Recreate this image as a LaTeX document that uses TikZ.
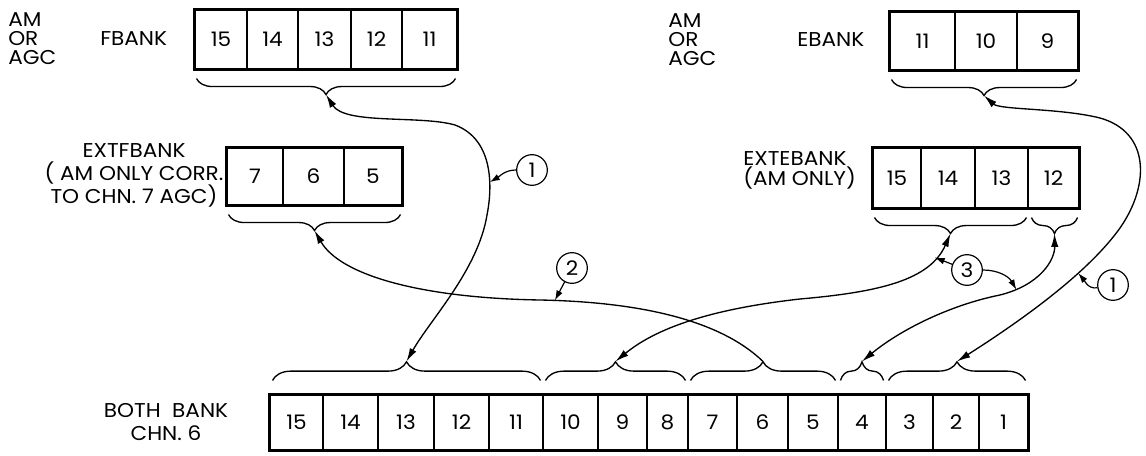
\documentclass[tikz,border=0pt]{standalone}
\usepackage{fontspec}
\setmainfont{Poppins}[FakeStretch=1.08]
\usetikzlibrary{arrows.meta, calc, decorations.pathreplacing}

\begin{document}
\begin{tikzpicture}[x=0.75pt, y=-0.75pt,
    every node/.style={font=\fontsize{15}{14.25}\selectfont, inner sep=0pt},
    cell/.style={draw, line width=0.8pt},
    frame/.style={line width=1.6pt},
    brace/.style={decorate, decoration={brace, amplitude=#1}, line width=1pt},
    link/.style={line width=1pt},
    tag/.style={draw, circle, line width=0.9pt, minimum size=23pt},
    callout/.style={line width=0.9pt, -{Latex[length=7.5pt, width=5pt]}},
    >={Latex[length=10pt, width=5.5pt]}]
  \path[use as bounding box, fill=white] (0,0) rectangle (1146,456);
  % top registers
  \foreach \l/\r/\n in {195/247/15, 247/298/14, 298/351/13, 351/402/12, 402/457/11}
    \node[cell, minimum width={(\r-\l)*0.75pt}, minimum height=44.25pt]
      (f\n) at ({(\l+\r)/2}, 39.5) {\n};
  \draw[frame] (f15.north west) rectangle (f11.south east);
  \foreach \l/\r/\n in {890/955/11, 955/1017/10, 1017/1078/9}
    \node[cell, minimum width={(\r-\l)*0.75pt}, minimum height=43.5pt]
      (e\n) at ({(\l+\r)/2}, 41) {\n};
  \draw[frame] (e11.north west) rectangle (e9.south east);
  \foreach \l/\r/\n in {227/283/7, 283/344/6, 344/402/5}
    \node[cell, minimum width={(\r-\l)*0.75pt}, minimum height=42.75pt]
      (xf\n) at ({(\l+\r)/2}, 176.5) {\n};
  \draw[frame] (xf7.north west) rectangle (xf5.south east);
  \foreach \l/\r/\n in {873/921/15, 921/975/14, 975/1028/13, 1028/1079/12}
    \node[cell, minimum width={(\r-\l)*0.75pt}, minimum height=45pt]
      (xe\n) at ({(\l+\r)/2}, 178) {\n};
  \draw[frame] (xe15.north west) rectangle (xe12.south east);
  % bottom register
  \foreach \l/\r/\n in {270/323/15, 323/378/14, 378/434/13, 434/489/12, 489/543/11,
      543/598/10, 598/647/9, 647/688/8, 688/737/7, 737/788/6, 788/838/5,
      838/886/4, 886/933/3, 933/979/2, 979/1028/1}
    \node[cell, minimum width={(\r-\l)*0.75pt}, minimum height=41.25pt]
      (b\n) at ({(\l+\r)/2}, 422.5) {\n};
  \draw[frame] (b15.north west) rectangle (b1.south east);
  % labels
  \node[anchor=west, align=left] (amf) at (8,39) {AM\\OR\\AGC};
  \node[anchor=west] (fbank) at (100,39) {FBANK};
  \node[anchor=west, align=left] (ame) at (668,40) {AM\\OR\\AGC};
  \node[anchor=west] (ebank) at (797,40) {EBANK};
  \node[align=center, font=\fontsize{15}{17.25}\selectfont] (extf) at (134,175)
    {EXTFBANK\\( AM ONLY CORR.\\TO CHN. 7 AGC)};
  \node[anchor=west, align=left, font=\fontsize{15}{15}\selectfont] (exte) at (743,170)
    {EXTEBANK\\(AM ONLY)};
  \node[align=center, font=\fontsize{15}{17.25}\selectfont] (both) at (166,422)
    {BOTH\ \ BANK\\CHN. 6};
  % braces
  \draw[brace=12pt] ($(f11.south east)+(-2,9)$) -- ($(f15.south west)+(2,9)$);
  \coordinate (tF) at ($(f15.south west)!0.5!(f11.south east)+(0,25)$);
  \draw[brace=12pt] ($(e9.south east)+(-2,9)$) -- ($(e11.south west)+(2,9)$);
  \coordinate (tE) at ($(e11.south west)!0.5!(e9.south east)+(0,25)$);
  \draw[brace=12pt] ($(xf5.south east)+(-2,9)$) -- ($(xf7.south west)+(2,9)$);
  \coordinate (tXF) at ($(xf7.south west)!0.5!(xf5.south east)+(0,25)$);
  \draw[brace=12pt] ($(xe13.south east)+(-2,9)$) -- ($(xe15.south west)+(2,9)$);
  \coordinate (tXE) at ($(xe15.south west)!0.5!(xe13.south east)+(0,25)$);
  \draw[brace=12pt] ($(xe12.south east)+(-2,9)$) -- ($(xe12.south west)+(4,9)$);
  \coordinate (tXE2) at ($(xe12.south west)!0.5!(xe12.south east)+(1,25)$);
  \foreach \a/\b/\t in {15/11/1, 10/8/2, 7/5/3, 4/4/4, 3/1/5} {
    \draw[brace=14pt] ($(b\a.north west)+(3,-14)$) -- ($(b\b.north east)+(-3,-14)$);
    \coordinate (tB\t) at ($(b\a.north west)!0.5!(b\b.north east)+(0,-33)$);
  }
  % connectors
  \draw[link, <->] (tF) .. controls (345,125) and (420,115) .. (455,125)
    .. controls (495,140) and (492,190) .. (487,215) coordinate[pos=0.65] (p1a)
    .. controls (478,270) and (430,320) .. (tB1);
  \draw[link, <-] (tXF) .. controls (340,275) and (420,298) .. (540,300)
    .. controls (640,302) and (720,320) .. (tB3) coordinate[pos=0.05] (p2);
  \draw[link, <->] (tB2) .. controls (660,325) and (720,308) .. (800,299)
    .. controls (880,292) and (930,280) .. (tXE) coordinate[pos=0.8] (p3a);
  \draw[link, <->] (tB4) .. controls (900,330) and (950,305) .. (1000,295)
    .. controls (1040,285) and (1055,260) .. (tXE2) coordinate[pos=0.15] (p3b);
  \draw[link, <->] (tE) .. controls (1000,110) and (1060,108) .. (1100,118)
    .. controls (1150,132) and (1150,185) .. (1120,228)
    .. controls (1090,270) and (1030,315) .. (tB5) coordinate[pos=0.35] (p1b);
  % numbered tags
  \node[tag] (c1a) at (532,170) {1};
  \node[tag] (c2) at (572,268) {2};
  \node[tag] (c3) at (967,270) {3};
  \node[tag] (c1b) at (1113,285) {1};
  \draw[callout] (c1a) to[out=180, in=30] (p1a);
  \draw[callout] (c2) -- (p2);
  \draw[callout] (c3) -- (p3a);
  \draw[callout] (c3) to[out=0, in=120] (p3b);
  \draw[callout] (c1b) to[out=190, in=-50] (p1b);
\end{tikzpicture}
\end{document}
